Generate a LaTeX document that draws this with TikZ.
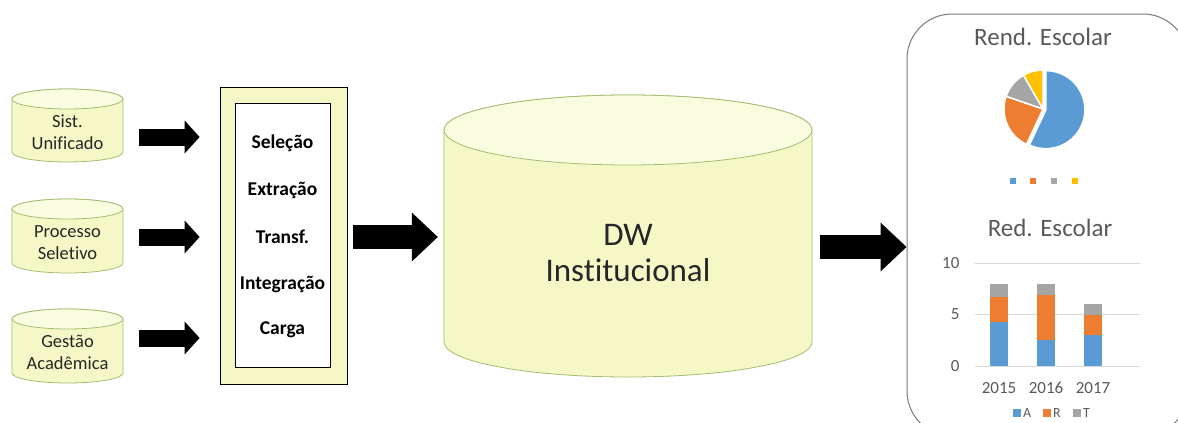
\documentclass[tikz,border=0pt]{standalone}
\usepackage{fontspec}
\setmainfont{Carlito}[Ligatures=NoCommon]
\usetikzlibrary{arrows.meta}
\usetikzlibrary{positioning}
\usetikzlibrary{calc}

\definecolor{dbfill}{HTML}{F5F8C6}
\definecolor{dbtop}{HTML}{FAFCE0}
\definecolor{dbline}{HTML}{A3BE73}
\definecolor{chtext}{HTML}{595959}
\definecolor{chgrid}{HTML}{D9D9D9}
\definecolor{serA}{HTML}{5B9BD5}
\definecolor{serR}{HTML}{ED7D31}
\definecolor{serT}{HTML}{A5A5A5}
\definecolor{serY}{HTML}{FFC000}

% cylinder: centre x, top y, bottom y, x radius, y radius
\newcommand{\dbcyl}[5]{%
  \filldraw[dbshape, fill=dbfill] ({#1-#4},{#2+#5}) -- ({#1-#4},{#3-#5})
    arc[start angle=180, end angle=0, x radius=#4, y radius=#5]
    -- ({#1+#4},{#2+#5}) arc[start angle=0, end angle=-180, x radius=#4, y radius=#5] -- cycle;
  \filldraw[dbshape, fill=dbtop] (#1,{#2+#5}) ellipse[x radius=#4, y radius=#5];
}

\tikzset{
  dbshape/.style={draw=dbline, line width=0.8pt},
  dbtext/.style={align=center, inner sep=0pt, text=black!85},
  smalldb/.style={dbtext, minimum width=111pt, font=\fontsize{18.5}{22}\selectfont},
  etlstep/.style={font=\bfseries\fontsize{19.5}{22}\selectfont},
  smallarrow/.style={line width=17pt, -{Triangle[length=15pt,width=33pt,line width=0pt]}},
  bigarrow/.style={line width=24pt, -{Triangle[length=26pt,width=49pt,line width=0pt]}},
  charttitle/.style={text=chtext, font=\fontsize{25}{30}\selectfont},
  chartlabel/.style={text=chtext, font=\fontsize{17}{20}\selectfont},
}

\begin{document}
\begin{tikzpicture}[x=1pt,y=-1pt]
    \useasboundingbox (0,0) rectangle (1178,423);

    % sources
    \dbcyl{67.5}{89}{162}{55.5}{10}
    \dbcyl{67.5}{199}{273}{55.5}{10}
    \dbcyl{67.5}{309}{383}{55.5}{10}
    \node[smalldb] (su) at (67.5,132) {Sist.\\Unificado};
    \node[smalldb] (pv) at (67.5,243) {Processo\\Seletivo};
    \node[smalldb] (ga) at (67.5,352) {Gestão\\Acadêmica};

    % ETL
    \node[draw, line width=0.8pt, fill=dbfill, minimum width=127pt, minimum height=297pt] (etl) at (283.5,236) {};
    \node[draw, line width=1pt, fill=white, minimum width=95pt, minimum height=264pt] (etlin) at (282.5,235) {};
    \node[etlstep] (sel) at (282.5,143) {Seleção};
    \node[etlstep] (ext) at (282.5,190) {Extração};
    \node[etlstep] (trf) at (282.5,237) {Transf.};
    \node[etlstep] (itg) at (282.5,284) {Integração};
    \node[etlstep] (crg) at (282.5,330) {Carga};

    % data warehouse
    \dbcyl{628}{95}{377}{184}{35}
    \node[dbtext, minimum width=368pt, font=\fontsize{33}{36}\selectfont] (dw) at (628,253) {DW\\Institucional};

    % dashboard
    \node[draw=chtext!80, line width=1pt, rounded corners=45pt, minimum width=281pt,
      minimum height=422pt, inner sep=0pt] (panel) at (1047.5,225) {};
    \node[charttitle] (rend) at (1043,37) {Rend. Escolar};
    \coordinate (pie) at (1043,109);
    \filldraw[fill=serA, draw=white, line width=1.5pt] ($(pie)+(12.5:3)$) -- ++(115:39) arc[start angle=115, end angle=-90, radius=39] -- cycle;
    \filldraw[fill=serR, draw=white, line width=1.5pt] (pie) -- ++(-161:39) arc[start angle=-161, end angle=-245, radius=39] -- cycle;
    \filldraw[fill=serT, draw=white, line width=1.5pt] (pie) -- ++(-120:39) arc[start angle=-120, end angle=-161, radius=39] -- cycle;
    \filldraw[fill=serY, draw=white, line width=1.5pt] (pie) -- ++(-90:39) arc[start angle=-90, end angle=-120, radius=39] -- cycle;
    \foreach \x/\c in {1013/serA, 1033/serR, 1054/serT, 1075/serY}
      \fill[\c] (\x-3,178) rectangle (\x+3,184);

    \node[charttitle] (red) at (1050,228) {Red. Escolar};
    \foreach \v/\y in {0/366, 5/314.5, 10/263} {
      \draw[chgrid, line width=0.8pt] (975,\y) -- (1140,\y);
      \node[chartlabel, anchor=east] (tick\v) at (963,\y) {\v};
    }
    \foreach \x/\a/\r/\t/\yr in {999/4.3/6.7/8.0/2015, 1046/2.5/6.9/8.0/2016, 1093/3.0/5.0/6.0/2017} {
      \fill[serA] ({\x-9},366) rectangle ({\x+9},{366-10.3*\a});
      \fill[serR] ({\x-9},{366-10.3*\a}) rectangle ({\x+9},{366-10.3*\r});
      \fill[serT] ({\x-9},{366-10.3*\r}) rectangle ({\x+9},{366-10.3*\t});
      \node[chartlabel] (year\yr) at (\x,388) {\yr};
    }
    \foreach \x/\c/\s in {1013/serA/A, 1043/serR/R, 1073/serT/T} {
      \fill[\c] (\x,409) rectangle (\x+8,417);
      \node[chartlabel, anchor=west, inner sep=1pt, font=\fontsize{14}{16}\selectfont] (leg\s) at (\x+9,413) {\s};
    }

    % connectors
    \draw[smallarrow] ($(su.east)+(16,5)$) -- ($(etl.west|-su.east)+(-20,5)$);
    \draw[smallarrow] ($(pv.east)+(16,-6)$) -- ($(etl.west|-pv.east)+(-20,-6)$);
    \draw[smallarrow] ($(ga.east)+(16,-14)$) -- ($(etl.west|-ga.east)+(-20,-14)$);
    \draw[bigarrow] ($(etl.east)+(6,1)$) -- ($(dw.west)+(-6,-16)$);
    \draw[bigarrow] ($(dw.east)+(8,-6)$) -- ($(panel.west)+(0,22)$);
\end{tikzpicture}
\end{document}
